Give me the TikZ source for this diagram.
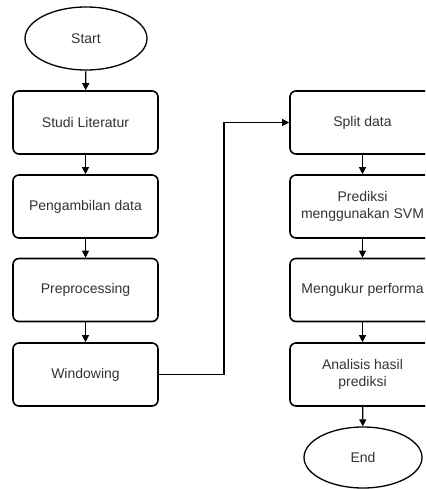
\documentclass[tikz,border=0pt]{standalone}
\usepackage{fontspec}
\setmainfont{Liberation Sans}
\usetikzlibrary{arrows.meta,shapes.geometric}
\begin{document}
\begin{tikzpicture}[x=1pt,y=-1pt,
  box/.style={draw=black,line width=1.6pt,rounded corners=6pt,minimum width=145pt,minimum height=63pt,align=center,text=black!80,font=\fontsize{14}{16.5}\selectfont,inner sep=0pt},
  term/.style={draw=black,line width=1.3pt,ellipse,minimum width=122pt,minimum height=63pt,inner sep=0pt,text=black!80,font=\fontsize{14}{16.5}\selectfont},
  arr/.style={line width=1.1pt,-{Triangle[length=7pt,width=7pt]}}]
\useasboundingbox (0,0) rectangle (425,489);
\clip (0,0) rectangle (425,489);
\fill[white] (0,0) rectangle (425,489);
\node[term] (start) at (86,38.5) {Start};
\node[box] (studi) at (85.5,122.5) {Studi Literatur};
\node[box] (ambil) at (85.5,206.5) {Pengambilan data};
\node[box] (pre) at (85.5,290) {Preprocessing};
\node[box] (win) at (85.5,374.5) {Windowing};
\node[box] (split) at (362.5,122.5) {Split data};
\node[box] (pred) at (362.5,206.5) {Prediksi\\menggunakan SVM};
\node[box] (ukur) at (362.5,290) {Mengukur performa};
\node[box] (anal) at (362.5,374.5) {Analisis hasil\\prediksi};
\node[term,minimum width=118pt,minimum height=61pt] (end) at (363,457.5) {End};
\coordinate (c1) at (224,374.5);
\coordinate (c2) at (224,122.5);
\draw[arr] (start) -- (studi);
\draw[arr] (studi) -- (ambil);
\draw[arr] (ambil) -- (pre);
\draw[arr] (pre) -- (win);
\draw[arr] (win.east) -- (c1) -- (c2) -- (split.west);
\draw[arr] (split) -- (pred);
\draw[arr] (pred) -- (ukur);
\draw[arr] (ukur) -- (anal);
\draw[arr] (anal) -- (end);
\end{tikzpicture}
\end{document}
